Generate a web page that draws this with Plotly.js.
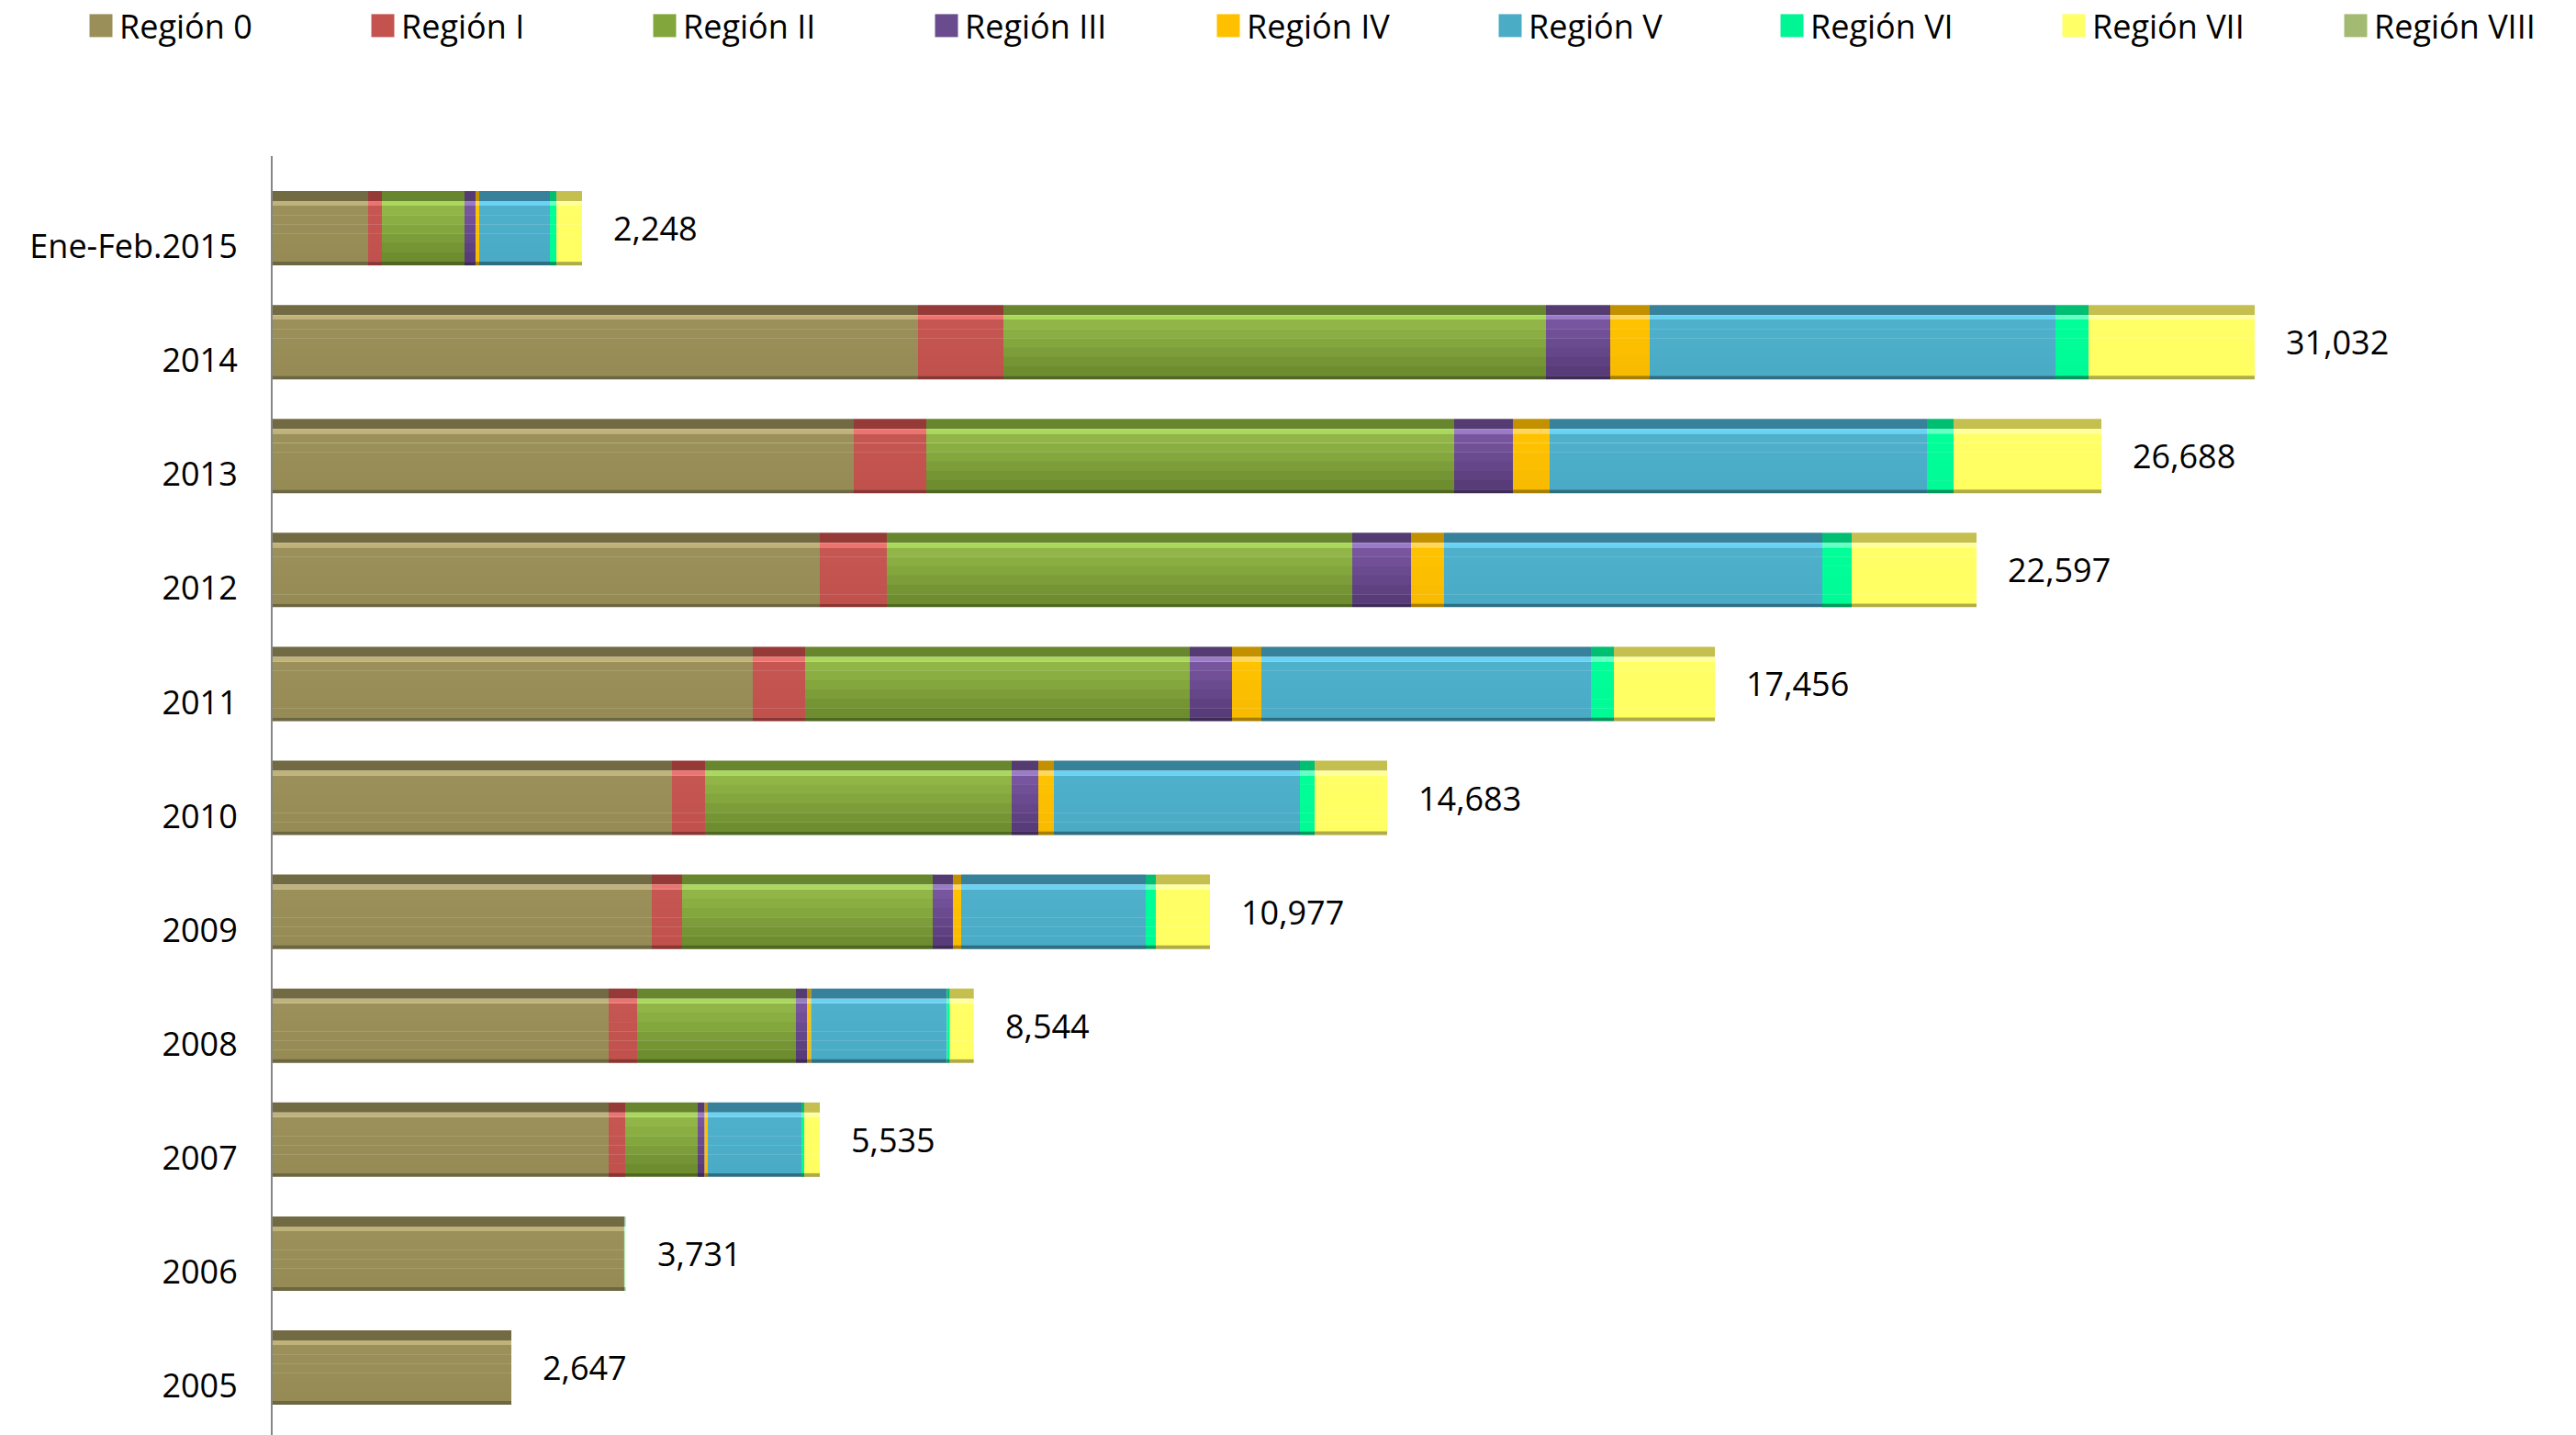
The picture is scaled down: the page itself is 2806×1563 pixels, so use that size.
<!DOCTYPE html>
<html><head><meta charset="utf-8">
<script src="https://cdn.plot.ly/plotly-3.0.1.min.js"></script>
<style>html,body{margin:0;padding:0;background:#fff;} #chart{width:2806px;height:1563px;}</style>
</head><body><div id="chart"></div>
<script>
// ---- data (bar segment lengths) ----
const categories = ['Ene-Feb.2015','2014','2013','2012','2011','2010','2009','2008','2007','2006','2005'];
const seriesNames = ['Región 0','Región I','Región II','Región III','Región IV','Región V','Región VI','Región VII','Región VIII'];
const region0    = [104, 703, 633, 596, 523, 435, 413, 366, 366, 382, 260];
const region1    = [15, 93, 79, 73, 57, 36, 33, 31, 18, 0, 0];
const region2    = [90, 591, 575, 507, 419, 334, 273, 173, 79, 0, 0];
const region3    = [12, 70, 64, 64, 46, 29, 22, 12, 7.6, 0, 0];
const region4    = [4, 43, 40, 36, 32, 17, 9, 4.4, 3.4, 0, 0];
const region5    = [77, 442, 411, 412, 359, 268, 201, 148, 102, 1.5, 0];
const region6    = [7, 36, 29, 32, 25, 16, 11, 3.3, 3, 0, 0];
const region7    = [28, 181, 161, 136, 110, 79, 59, 26, 17, 1, 0];
const region8    = [0, 0, 0, 0, 0, 0, 0, 0, 0, 0, 0];
const totalLabels = ['2,248','31,032','26,688','22,597','17,456','14,683','10,977','8,544','5,535','3,731','2,647'];

const seriesValues = [region0, region1, region2, region3, region4, region5, region6, region7, region8];

// ---- styles ----
const styles = [
  {top:'#9B905A', bot:'#968B55', strip:'#716A43', hl:'#BFB27B', edge:'#6C6641', leg:'#9A8F58'},
  {top:'#C75652', bot:'#C0504D', strip:'#953A37', hl:'#EC7470', edge:'#8A3633', leg:'#C4524F'},
  {top:'#95BA49', bot:'#6A892D', strip:'#68862D', hl:'#AAD85C', edge:'#4E6821', leg:'#82A63C'},
  {top:'#7B58A3', bot:'#553976', strip:'#543C72', hl:'#9A7CC6', edge:'#3E2B57', leg:'#6A4B8E'},
  {top:'#FFC300', bot:'#F8BA00', strip:'#C39100', hl:'#FFD75A', edge:'#A87E00', leg:'#FFC000'},
  {top:'#4EB0CB', bot:'#4AABC5', strip:'#37819A', hl:'#6AD2F2', edge:'#2E6E83', leg:'#4BACC6'},
  {top:'#00FF99', bot:'#00FA96', strip:'#00BF73', hl:'#66FFC4', edge:'#009A5C', leg:'#00F595'},
  {top:'#FFFF66', bot:'#FFFF62', strip:'#C4BF4E', hl:'#FFFFA0', edge:'#B0AC45', leg:'#FFFF66'},
  {top:'#C3D69B', bot:'#77933C', strip:'#8DA656', hl:'#D7E4BD', edge:'#5F7530', leg:'#A3BA72'}
];
const FONT = 'Open Sans, Noto Sans, Liberation Sans, sans-serif';

function hexToRgb(h){h=h.replace('#','');return [parseInt(h.substr(0,2),16),parseInt(h.substr(2,2),16),parseInt(h.substr(4,2),16)];}
function mix(a,b,t){const A=hexToRgb(a),B=hexToRgb(b);return 'rgb('+A.map((v,i)=>Math.round(v+(B[i]-v)*t)).join(',')+')';}

// bar geometry in category units
const W = 0.653, TOP = -W/2;
const STRIP = 0.0886, HL = 0.040, EDGE = 0.032, NB = 6;
const faceStart = TOP + STRIP + HL;
const faceH = W - STRIP - HL - EDGE;

const traces = [];
const bases = seriesValues.map(()=>[]);
const cum = categories.map(()=>0);
seriesValues.forEach((vals, s) => {
  vals.forEach((v,i)=>{ bases[s][i] = cum[i]; cum[i] += v; });
});

function addBand(s, offset, width, color){
  traces.push({
    type:'bar', orientation:'h', y:categories, x:seriesValues[s], base:bases[s],
    offset:offset, width:width, name:seriesNames[s], legendgroup:'g'+s,
    showlegend:false, hoverinfo:'skip',
    marker:{color:color, line:{width:0}}
  });
}
seriesValues.forEach((vals,s)=>{
  const st = styles[s];
  for(let b=0;b<NB;b++){
    const t = (b+0.5)/NB;
    addBand(s, faceStart + b*faceH/NB, faceH/NB + 0.002, mix(st.top, st.bot, t));
  }
  addBand(s, TOP, STRIP, st.strip);
  addBand(s, TOP+STRIP, HL, st.hl);
  addBand(s, TOP+W-EDGE, EDGE, st.edge);
});
// legend entries (one per series, no visible bars of their own)
seriesValues.forEach((vals,s)=>{
  traces.push({
    type:'bar', orientation:'h', y:categories, x:vals.map(()=>null),
    name:seriesNames[s], legendgroup:'g'+s, showlegend:true, hoverinfo:'skip',
    marker:{color:styles[s].leg, line:{width:0}}
  });
});

const annotations = categories.map((c,i)=>({
  x: cum[i], y: i, xref:'x', yref:'y', text: totalLabels[i], showarrow:false,
  xanchor:'left', yanchor:'middle', xshift:32,
  font:{family:FONT, size:36, color:'#000'}
}));

const ML = 297, MR = 20, MT = 170, MB = 0;
const plotW = 2806 - ML - MR;
const plotH = 1563 - MT - MB;

const layout = {
  width:2806, height:1563,
  margin:{l:ML, r:MR, t:MT, b:MB, pad:0, autoexpand:false},
  paper_bgcolor:'#fff', plot_bgcolor:'#fff',
  barmode:'overlay',
  font:{family:FONT, size:36, color:'#000'},
  xaxis:{range:[0, plotW], showgrid:false, zeroline:false, showticklabels:false, showline:false, ticks:''},
  yaxis:{type:'category', categoryorder:'array', categoryarray:categories,
         range:[10.592, -0.633], showgrid:false, zeroline:false,
         showline:true, linecolor:'#868686', linewidth:2, ticks:'',
         ticklabelstandoff:29, ticklabelshift:-20,
         tickfont:{family:FONT, size:36, color:'#000'}},
  legend:{orientation:'h', xref:'paper', yref:'paper', x:(90-ML)/plotW, y:1+(MT+2)/plotH,
          xanchor:'left', yanchor:'top', traceorder:'normal',
          entrywidth:262, entrywidthmode:'pixels',
          font:{family:FONT, size:36, color:'#000'}, bgcolor:'rgba(0,0,0,0)'},
  annotations:annotations,
  showlegend:true
};

function bigLegend(){
  document.querySelectorAll('#chart .legendbar, #chart g.legendpoints path').forEach(p=>{
    if(p.getAttribute('d') !== 'M12.5,12.5H-12.5V-12.5H12.5Z') p.setAttribute('d','M12.5,12.5H-12.5V-12.5H12.5Z');
  });
}
const gd = document.getElementById('chart');
Plotly.newPlot(gd, traces, layout, {staticPlot:true, displayModeBar:false}).then(()=>{
  bigLegend();
  gd.on && gd.on('plotly_afterplot', bigLegend);
  setTimeout(bigLegend, 50);
  setTimeout(bigLegend, 300);
});
</script>
</body></html>
